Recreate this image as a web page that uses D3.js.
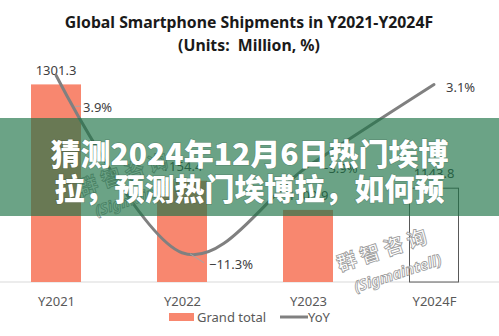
<!DOCTYPE html>
<html>
<head>
<meta charset="utf-8">
<script src="https://cdn.jsdelivr.net/npm/d3@7"></script>
<style>
  html, body { margin: 0; padding: 0; background: #fff; }
  svg { display: block; }
</style>
</head>
<body>
<svg id="chart" width="499" height="336"></svg>
<script>
// Global smartphone shipments, million units, with year-over-year change
const years = ["Y2021", "Y2022", "Y2023", "Y2024F"];
const shipments = [1301.3, 1154.4, 1109.9, 1143.8];
const yoy = [3.9, -11.3, -3.9, 3.1];
const isForecast = [false, false, false, true];
const titleLines = ["Global Smartphone Shipments in Y2021-Y2024F", "(Units:\u00a0\u00a0Million, %)"];
const legendItems = ["Grand total", "YoY"];
const bannerLines = ["猜测2024年12月6日热门埃博", "拉，预测热门埃博拉，如何预"];
const watermark = ["群 智 咨 询", "(Sigmaintell)"];

const W = 499, H = 336;
const svg = d3.select("#chart");
const font = "'Noto Sans', 'Open Sans', sans-serif";

// Scales
const x = d3.scalePoint().domain(years).range([-7, 497]).padding(0.5);
const yBar = d3.scaleLinear().domain([1000, 1430]).range([282, 0]);
const yYoy = d3.scaleLinear().domain([-15, 10]).range([296, 4]);
const barW = 50;

// Title
svg.append("g").selectAll("text").data(titleLines).join("text")
  .attr("x", 249).attr("y", (d, i) => 27.5 + i * 23)
  .attr("text-anchor", "middle")
  .attr("font-family", font).attr("font-weight", 700).attr("font-size", 15.8)
  .attr("fill", "#1a1a1a")
  .text(d => d);

// Category axis
const xAxis = d3.axisBottom(x).tickSize(0).tickPadding(15);
const gx = svg.append("g").attr("transform", `translate(0,${yBar(1000)})`).call(xAxis);
gx.select(".domain").remove();
gx.append("line").attr("x1", 0).attr("x2", W).attr("stroke", "#d9d9d9").attr("stroke-width", 1);
gx.selectAll(".tick text").attr("font-family", font).attr("font-size", 13).attr("fill", "#595959");

// Bars
const data = years.map((c, i) => ({ c, v: shipments[i], f: isForecast[i], r: yoy[i] }));
svg.append("g").selectAll("rect").data(data).join("rect")
  .attr("x", d => x(d.c) - barW / 2 + (d.f ? 0.5 : 0))
  .attr("y", d => yBar(d.v) + (d.f ? 0.5 : 0))
  .attr("width", d => d.f ? barW - 1 : barW)
  .attr("height", d => yBar(1000) - yBar(d.v) - (d.f ? 0.5 : 0))
  .attr("fill", d => d.f ? "#fff" : "#f8876f")
  .attr("stroke", d => d.f ? "#595959" : "none")
  .attr("stroke-width", 1);

// Bar value labels
svg.append("g").selectAll("text").data(data).join("text")
  .attr("x", d => x(d.c))
  .attr("y", d => yBar(d.v) - 9.5)
  .attr("text-anchor", "middle")
  .attr("font-family", font).attr("font-size", 13).attr("fill", "#404040")
  .text(d => d.v.toFixed(1));

// YoY smoothed line
const line = d3.line()
  .x(d => x(d.c))
  .y(d => yYoy(d.r))
  .curve(d3.curveCardinal.tension(0));
svg.append("path").datum(data)
  .attr("d", line)
  .attr("fill", "none").attr("stroke", "#808080").attr("stroke-width", 3)
  .attr("stroke-linecap", "round");

// YoY labels with their leader offsets
const yoyOffsets = [[27, 32], [27, 11], [13, 1.5], [12, 2]];
const leaders = [[[19, 31], [25, 31]], [[8, 1], [22, 10]], null, null];
const gy = svg.append("g");
data.forEach((d, i) => {
  const px = x(d.c), py = yYoy(d.r);
  if (leaders[i]) {
    gy.append("line")
      .attr("x1", px + leaders[i][0][0]).attr("y1", py + leaders[i][0][1])
      .attr("x2", px + leaders[i][1][0]).attr("y2", py + leaders[i][1][1])
      .attr("stroke", "#a6a6a6").attr("stroke-width", 1);
  }
  gy.append("text")
    .attr("x", px + yoyOffsets[i][0]).attr("y", py + yoyOffsets[i][1])
    .attr("dominant-baseline", "central")
    .attr("font-family", font).attr("font-size", 13).attr("fill", "#404040")
    .text(d3.format(".1f")(d.r) + "%");
});

// Legend
const lg = svg.append("g").attr("transform", "translate(0,317)");
lg.append("rect").attr("x", 169).attr("y", -4).attr("width", 25).attr("height", 8).attr("fill", "#f8876f");
lg.append("text").attr("x", 197).attr("y", 0).attr("dominant-baseline", "central")
  .attr("font-family", font).attr("font-size", 13).attr("fill", "#595959").text(legendItems[0]);
lg.append("line").attr("x1", 280).attr("x2", 308).attr("y1", 0).attr("y2", 0)
  .attr("stroke", "#808080").attr("stroke-width", 3);
lg.append("text").attr("x", 308).attr("y", 0).attr("dominant-baseline", "central")
  .attr("font-family", font).attr("font-size", 13).attr("fill", "#595959").text(legendItems[1]);

// Watermark stamps
function stamp(cx, cy) {
  const g = svg.append("g").attr("transform", `translate(${cx},${cy}) rotate(-18)`);
  g.append("text").attr("x", 0).attr("y", 0).attr("text-anchor", "middle")
    .attr("font-family", "'Noto Sans CJK SC', sans-serif").attr("font-weight", 700).attr("font-size", 20)
    .attr("fill", "rgba(255,255,255,0.6)").attr("stroke", "#9a9a9a").attr("stroke-width", 0.8)
    .text(watermark[0]);
  g.append("text").attr("x", 8).attr("y", 25).attr("text-anchor", "middle")
    .attr("font-family", font).attr("font-weight", 700).attr("font-style", "italic").attr("font-size", 15)
    .attr("fill", "rgba(255,255,255,0.6)").attr("stroke", "#9a9a9a").attr("stroke-width", 0.8)
    .text(watermark[1]);
}
stamp(384, 257);
stamp(125, 181);

// Overlay banner
svg.append("rect").attr("x", 0).attr("y", 118).attr("width", W).attr("height", 98)
  .attr("fill", "rgb(28,113,69)").attr("fill-opacity", 0.65);
svg.append("g").selectAll("text").data(bannerLines).join("text")
  .attr("x", 249.5).attr("y", (d, i) => 152 + i * 35)
  .attr("text-anchor", "middle").attr("dominant-baseline", "central")
  .attr("font-family", "'Noto Sans CJK SC', sans-serif").attr("font-weight", 900).attr("font-size", 30)
  .attr("fill", "#fff")
  .style("paint-order", "stroke")
  .attr("stroke", "rgba(0,0,0,0.15)").attr("stroke-width", 1.5)
  .text(d => d);
</script>
</body>
</html>
